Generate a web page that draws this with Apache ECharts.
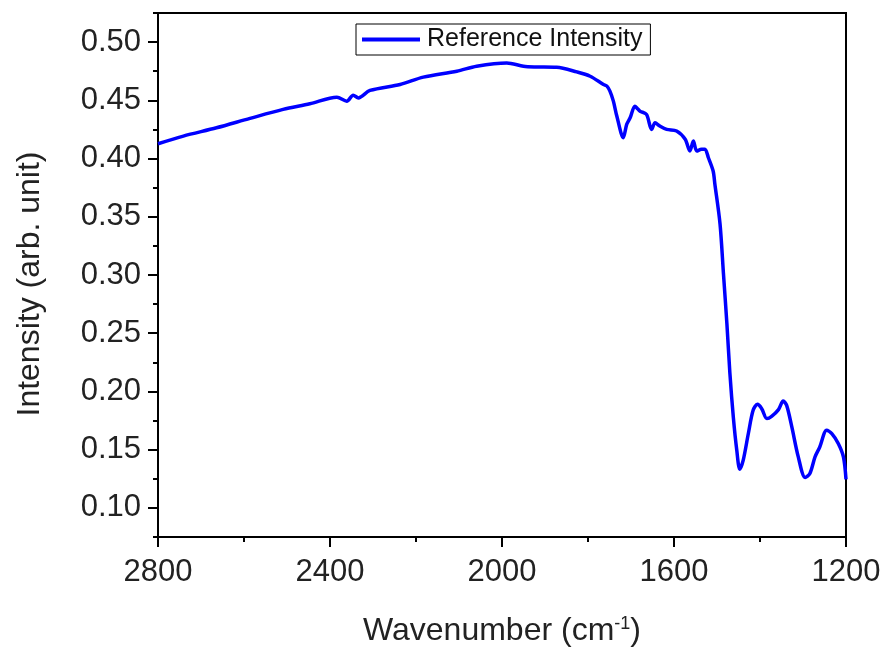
<!DOCTYPE html>
<html>
<head>
<meta charset="utf-8">
<script src="https://cdn.jsdelivr.net/npm/echarts@6/dist/echarts.min.js"></script>
<style>
html,body{margin:0;padding:0;background:#fff;}
#chart{width:883px;height:647px;}
</style>
</head>
<body>
<div id="chart"></div>
<script>
// Data
const wavenumber = [2800, 2741, 2664, 2586, 2509, 2447, 2384, 2361, 2346, 2334, 2307, 2237, 2183, 2105, 2059, 1989, 1950, 1925, 1873, 1826, 1795, 1764, 1756, 1749, 1741, 1733, 1718, 1710, 1702, 1691, 1684, 1679, 1664, 1652, 1644, 1633, 1617, 1594, 1574, 1563, 1555, 1547, 1536, 1528, 1520, 1509, 1505, 1493, 1485, 1477, 1470, 1462, 1454, 1447, 1439, 1427, 1416, 1406, 1396, 1384, 1373, 1357, 1346, 1338, 1326, 1311, 1295, 1284, 1272, 1261, 1245, 1233, 1218, 1206, 1200];
const intensity = [0.4127, 0.4193, 0.4264, 0.4345, 0.4422, 0.4470, 0.4527, 0.4493, 0.4544, 0.4521, 0.4585, 0.4636, 0.4699, 0.4750, 0.4793, 0.4821, 0.4793, 0.4787, 0.4784, 0.4744, 0.4707, 0.4636, 0.4622, 0.4579, 0.4493, 0.4365, 0.4179, 0.4293, 0.4350, 0.4450, 0.4425, 0.4407, 0.4379, 0.4250, 0.4307, 0.4279, 0.4250, 0.4236, 0.4165, 0.4065, 0.4150, 0.4065, 0.4080, 0.4080, 0.4007, 0.3893, 0.3782, 0.3440, 0.3011, 0.2583, 0.2155, 0.1778, 0.1495, 0.1332, 0.1410, 0.1641, 0.1838, 0.1889, 0.1852, 0.1767, 0.1786, 0.1844, 0.1917, 0.1880, 0.1695, 0.1438, 0.1261, 0.1296, 0.1438, 0.1523, 0.1667, 0.1638, 0.1553, 0.1438, 0.1245];
const yTickValues = [0.10, 0.15, 0.20, 0.25, 0.30, 0.35, 0.40, 0.45, 0.50];
const seriesName = 'Reference Intensity';
const xTitle = 'Wavenumber (cm{sup|-1})';
const yTitle = 'Intensity (arb. unit)';

const points = wavenumber.map((w, i) => [w, intensity[i]]);
const FONT = 'Liberation Sans, Arial, sans-serif';
const chart = echarts.init(document.getElementById('chart'), null, {renderer: 'canvas'});
chart.setOption({
  animation: false,
  backgroundColor: '#fff',
  grid: {left: 158, right: 37, top: 13, bottom: 110, containLabel: false, outerBoundsMode: 'none', show: true, borderColor: '#000', borderWidth: 2, backgroundColor: 'transparent'},
  legend: {
    left: 356, top: 24,
    padding: [3, 8, 3, 6],
    itemWidth: 58, itemHeight: 4, itemGap: 0,
    icon: 'rect',
    borderColor: '#000', borderWidth: 1,
    textStyle: {fontFamily: FONT, fontSize: 25, color: '#111', padding: [0, 0, 0, 2]},
    data: [seriesName]
  },
  xAxis: {
    type: 'value', inverse: true, min: 1200, max: 2800, interval: 400,
    name: xTitle, nameLocation: 'middle', nameGap: 78,
    nameTextStyle: {fontFamily: FONT, fontSize: 32, color: '#222', rich: {sup: {fontFamily: FONT, fontSize: 18, verticalAlign: 'top', color: '#222', padding: [0, 0, 12, 0]}}},
    axisLine: {show: true, lineStyle: {color: '#000', width: 2}},
    axisTick: {show: true, length: 10, lineStyle: {color: '#000', width: 2}},
    minorTick: {show: true, splitNumber: 2, length: 5, lineStyle: {color: '#000', width: 2}},
    axisLabel: {fontFamily: FONT, fontSize: 31, color: '#222', margin: 20, formatter: v => String(v)},
    splitLine: {show: false}
  },
  yAxis: [{
    type: 'value', min: 0.075, max: 0.525,
    name: yTitle, nameLocation: 'middle', nameGap: 112,
    nameTextStyle: {fontFamily: FONT, fontSize: 32, color: '#222', padding: [0, 18, 0, 0]},
    axisLine: {show: true, lineStyle: {color: '#000', width: 2}},
    axisTick: {show: true, length: 10, customValues: yTickValues, lineStyle: {color: '#000', width: 2}},
    axisLabel: {fontFamily: FONT, fontSize: 31, color: '#222', margin: 17, customValues: yTickValues, formatter: v => v.toFixed(2)},
    splitLine: {show: false}
  }, {
    type: 'value', position: 'left', min: 0.075, max: 0.525, interval: 0.025,
    axisLine: {show: false},
    axisTick: {show: true, length: 5, lineStyle: {color: '#000', width: 2}},
    axisLabel: {show: false},
    splitLine: {show: false}
  }],
  series: [{
    name: seriesName, type: 'line', data: points, yAxisIndex: 0,
    symbol: 'none', smooth: 0.3,
    lineStyle: {color: '#0000ff', width: 3.5},
    itemStyle: {color: '#0000ff'}
  }]
});
</script>
</body>
</html>
